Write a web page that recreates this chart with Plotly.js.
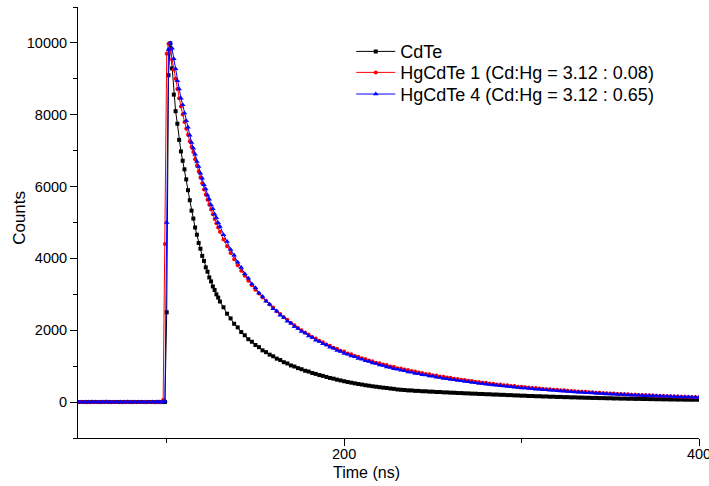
<!DOCTYPE html>
<html>
<head>
<meta charset="utf-8">
<script src="https://cdn.plot.ly/plotly-3.0.1.min.js"></script>
<style>html,body{margin:0;padding:0;background:#fff;}#chart{width:709px;height:486px;}</style>
</head>
<body>
<div id="chart"></div>
<script>
// Time axis (ns)
const timeNs = [
 50,52,54,56,58,60,62,64,66,68,70,72,74,76,78,80,82,84,86,88,90,92,94,
 95,96,97,98,99,100,101,102,103,104,105,106,107,108,109,110,111,112,113,114,115,116,117,118,119,120,121,122,123,124,125,126,127,128,129,130,
 132,134,136,138,140,142,144,146,148,150,152,154,156,158,160,162,164,166,168,170,172,174,176,178,180,182,184,186,188,190,
 192,194,196,198,200,202,204,206,208,210,212,214,216,218,220,222,224,226,228,230,
 232,234,236,238,240,242,244,246,248,250,252,254,256,258,260,262,264,266,268,270,272,274,276,278,280,282,284,286,288,290,
 292,294,296,298,300,302,304,306,308,310,312,314,316,318,320,322,324,326,328,330,
 332,334,336,338,340,342,344,346,348,350,352,354,356,358,360,362,364,366,368,370,372,374,376,378,380,382,384,386,388,390,
 392,394,396,398,400
];

// CdTe counts
const cdte = [
 0,3,1,0,4,2,0,1,5,0,2,3,0,1,4,0,2,1,3,0,2,1,0,
 2,0,3,1,4,2500,9100,9990,9290,8560,8100,7750,7300,6980,6720,6480,6200,5900,5620,5330,5110,4860,4660,4430,4270,4070,3930,3750,3630,3470,3360,3220,3120,3000,2910,2800,
 2640,2460,2330,2180,2080,1950,1860,1750,1680,1590,1530,1440,1390,1320,1275,1210,1170,1110,1075,1020,990,945,915,872,850,810,785,752,730,700,
 672,652,625,603,580,560,540,522,503,488,470,456,440,428,414,402,392,378,368,352,
 343,336,326,324,313,312,302,301,291,290,281,280,271,270,262,260,252,251,244,242,235,234,227,225,219,218,210,210,203,202,
 194,194,186,185,178,178,170,170,163,163,156,157,149,150,143,144,137,138,131,132,
 126,125,121,120,115,116,111,111,106,107,101,102,97,98,93,94,89,90,85,86,82,83,78,80,75,77,72,74,70,71,
 67,68,65,66,63
];

// HgCdTe 1 (Cd:Hg = 3.12 : 0.08) counts
const hgcdte1 = [
 0,2,4,1,3,0,1,2,0,4,2,1,3,0,2,1,0,3,2,4,1,0,3,
 2,0,5,60,4400,9700,9980,9820,9540,9260,9000,8720,8460,8230,8010,7800,7610,7440,7260,7100,6960,6760,6580,6420,6250,6090,5920,5780,5630,5500,5360,5230,5100,4980,4860,4740,
 4530,4340,4150,3980,3810,3660,3520,3380,3250,3130,3020,2910,2820,2720,2630,2530,2450,2360,2290,2200,2140,2060,2000,1930,1880,1815,1770,1705,1665,1605,
 1570,1515,1485,1430,1405,1355,1330,1285,1262,1218,1198,1155,1138,1098,1082,1045,1030,992,982,945,
 935,905,890,862,850,822,812,785,776,748,740,715,708,682,676,652,646,622,618,593,590,566,562,540,537,515,512,492,489,470,
 468,450,446,430,427,410,408,392,390,375,373,358,357,342,341,328,326,313,312,299,
 298,286,285,273,272,261,260,249,248,238,237,227,226,217,216,207,206,198,197,189,188,180,179,172,171,164,163,156,155,149,
 148,142,141,136,135
];

// HgCdTe 4 (Cd:Hg = 3.12 : 0.65) counts
const hgcdte4 = [
 2,0,3,1,0,4,2,1,0,3,1,0,2,5,1,0,3,2,0,1,4,0,2,
 1,3,0,2,30,5000,9820,10000,9850,9560,9280,8950,8720,8460,8280,8050,7830,7650,7430,7230,7070,6900,6700,6560,6370,6230,6050,5930,5760,5650,5490,5380,5230,5130,4990,4890,
 4660,4470,4250,4090,3890,3750,3570,3450,3290,3180,3040,2940,2810,2725,2600,2530,2420,2355,2250,2195,2100,2050,1965,1920,1840,1800,1725,1690,1622,1590,
 1525,1496,1438,1410,1356,1332,1282,1260,1212,1192,1148,1130,1087,1071,1030,1016,978,965,928,916,
 883,870,840,829,799,789,760,752,724,717,690,683,657,650,626,620,598,592,570,565,544,539,519,515,495,491,473,469,452,448,
 431,428,412,409,394,391,377,374,360,357,344,341,328,326,314,312,301,298,287,284,
 274,272,262,260,250,249,239,238,228,227,219,218,209,208,200,199,191,190,182,182,174,174,167,166,159,159,153,152,146,145,
 139,139,133,133,128
];

const seriesNames = ['CdTe', 'HgCdTe 1 (Cd:Hg = 3.12 : 0.08)', 'HgCdTe 4 (Cd:Hg = 3.12 : 0.65)'];
const xTickVals = [200, 400];
const xMinorVals = [100, 300];
const yTickVals = [0, 2000, 4000, 6000, 8000, 10000];
const yMinorVals = [-1000, 1000, 3000, 5000, 7000, 9000, 11000];
const xTitle = 'Time (ns)';
const yTitle = 'Counts';

const FONT = 'Liberation Sans, Arial, sans-serif';

const traces = [
  {x: timeNs, y: cdte, name: seriesNames[0], legend: 'legend', type: 'scatter', mode: 'lines+markers',
   line: {color: '#000000', width: 1}, marker: {symbol: 'square', size: 4, color: '#000000'}},
  {x: timeNs, y: hgcdte1, name: seriesNames[1], legend: 'legend2', type: 'scatter', mode: 'lines+markers',
   line: {color: '#ff0000', width: 1}, marker: {symbol: 'circle', size: 4, color: '#ff0000'}},
  {x: timeNs, y: hgcdte4, name: seriesNames[2], legend: 'legend3', type: 'scatter', mode: 'lines+markers',
   line: {color: '#0000ff', width: 1}, marker: {symbol: 'triangle-up', size: 5, color: '#0000ff'}}
];

function legendAt(y) {
  return {x: 0.44, y: y, xanchor: 'left', yanchor: 'middle', bgcolor: 'rgba(0,0,0,0)',
          itemwidth: 39, font: {family: FONT, size: 18, color: '#000'}};
}

const layout = {
  width: 709, height: 486,
  margin: {l: 78, r: 10, t: 7, b: 48},
  paper_bgcolor: '#ffffff', plot_bgcolor: '#ffffff',
  font: {family: FONT, size: 14.5, color: '#000000'},
  showlegend: true,
  legend: legendAt(0.8963),
  legend2: legendAt(0.8476),
  legend3: legendAt(0.7974),
  xaxis: {
    range: [50, 400], tickmode: 'array', tickvals: xTickVals, ticktext: xTickVals.map(String),
    ticks: 'outside', ticklen: 7, tickwidth: 1, tickcolor: '#000',
    ticklabeloverflow: 'allow', ticklabelstandoff: -4,
    minor: {tickmode: 'array', tickvals: xMinorVals, ticks: 'outside', ticklen: 4, tickwidth: 1, tickcolor: '#000'},
    showline: true, linecolor: '#000', linewidth: 1, showgrid: false, zeroline: false,
    tickfont: {family: FONT, size: 14.5}
  },
  yaxis: {
    range: [-1000, 11000], tickmode: 'array', tickvals: yTickVals, ticktext: yTickVals.map(String),
    ticks: 'outside', ticklen: 7, tickwidth: 1, tickcolor: '#000',
    minor: {tickmode: 'array', tickvals: yMinorVals, ticks: 'outside', ticklen: 4, tickwidth: 1, tickcolor: '#000'},
    showline: true, linecolor: '#000', linewidth: 1, showgrid: false, zeroline: false,
    tickfont: {family: FONT, size: 14.5}
  },
  annotations: [
    {text: xTitle, xref: 'paper', yref: 'paper', x: 0.4638, y: -0.0789, xanchor: 'center', yanchor: 'middle',
     showarrow: false, font: {family: FONT, size: 16, color: '#000'}},
    {text: yTitle, xref: 'paper', yref: 'paper', x: -0.094, y: 0.51, xanchor: 'center', yanchor: 'middle',
     textangle: -90, showarrow: false, font: {family: FONT, size: 17, color: '#000'}}
  ]
};

Plotly.newPlot('chart', traces, layout, {displayModeBar: false, staticPlot: true});
</script>
</body>
</html>
